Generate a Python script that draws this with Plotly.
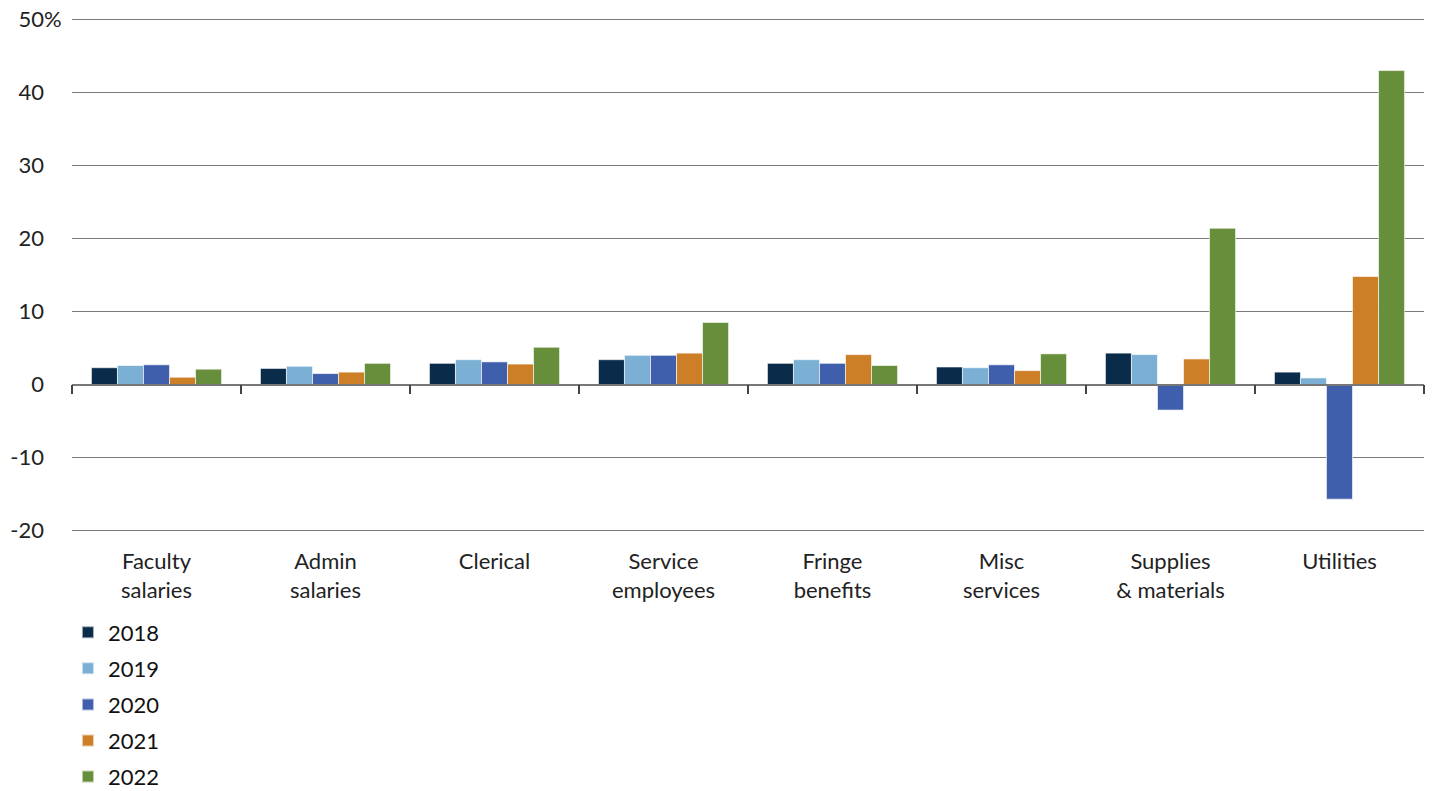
import plotly.graph_objects as go

categories = ["Faculty<br>salaries", "Admin<br>salaries", "Clerical", "Service<br>employees",
              "Fringe<br>benefits", "Misc<br>services", "Supplies<br>& materials", "Utilities"]
years = ["2018", "2019", "2020", "2021", "2022"]
v2018 = [2.3, 2.2, 2.9, 3.4, 2.9, 2.4, 4.3, 1.7]
v2019 = [2.6, 2.5, 3.4, 4.0, 3.4, 2.3, 4.1, 0.9]
v2020 = [2.7, 1.5, 3.1, 4.0, 2.9, 2.7, -3.5, -15.7]
v2021 = [1.0, 1.7, 2.8, 4.3, 4.1, 1.9, 3.5, 14.8]
v2022 = [2.1, 2.9, 5.1, 8.5, 2.6, 4.2, 21.4, 43.0]
colors = ["#0a2b4a", "#7bafd4", "#3f5fac", "#cd7f27", "#668e3b"]
ytick_vals = [-20, -10, 0, 10, 20, 30, 40, 50]
ytick_text = ["-20", "-10", "0", "10", "20", "30", "40", "50%"]

FONT = "Lato"
FS = 22
series = [v2018, v2019, v2020, v2021, v2022]
xpos = list(range(len(categories)))
YMIN, YMAX = -20.2, 50.2

fig = go.Figure()
for yr, vals, col in zip(years, series, colors):
    fig.add_trace(go.Bar(
        x=xpos, y=vals, name=yr,
        marker=dict(color=col, line=dict(color="rgba(255,255,255,0.6)", width=1)),
        legendgroup=yr, hoverinfo="x+y",
    ))

# invisible helper trace so the overlay axis (category boundary ticks on the zero line) is drawn
fig.add_trace(go.Scatter(x=xpos, y=v2018, xaxis="x2", mode="markers",
                         marker=dict(opacity=0), showlegend=False, hoverinfo="skip"))

hidden = "<span style='color:rgba(0,0,0,0)'>%</span>"
ticktext = [t if t.endswith("%") else t + hidden for t in ytick_text]

fig.update_layout(
    width=1434, height=791,
    margin=dict(l=72, r=10, t=18, b=259, autoexpand=False),
    plot_bgcolor="white", paper_bgcolor="white",
    font=dict(family=FONT, size=FS, color="#222"),
    barmode="group", bargap=0.23, bargroupgap=0,
    showlegend=True,
    legend=dict(x=-0.003, xanchor="left", y=-0.1545, yanchor="top",
                orientation="v", font=dict(size=FS, family=FONT, color="#111"),
                tracegroupgap=4.5, itemsizing="constant"),
    xaxis=dict(
        tickmode="array", tickvals=xpos, ticktext=categories,
        range=[-0.5, len(categories) - 0.5],
        showgrid=False, zeroline=False, showline=False,
        ticks="outside", ticklen=10, tickcolor="rgba(0,0,0,0)",
        tickfont=dict(size=FS, family=FONT, color="#222"),
    ),
    xaxis2=dict(
        overlaying="x", anchor="free", position=(0 - YMIN) / (YMAX - YMIN),
        range=[-0.5, len(categories) - 0.5],
        tickmode="array", tickvals=[i - 0.5 for i in range(len(categories) + 1)],
        ticks="outside", ticklen=9, tickwidth=1.5, tickcolor="#444",
        showticklabels=False, showgrid=False, zeroline=False,
        showline=True, linecolor="#777", linewidth=1.5,
    ),
    yaxis=dict(
        range=[YMIN, YMAX], tickmode="array", tickvals=ytick_vals, ticktext=ticktext,
        showgrid=True, gridcolor="#7a7a7a", gridwidth=1.2,
        zeroline=False, showline=False,
        ticks="outside", ticklen=5, tickcolor="rgba(0,0,0,0)",
        tickfont=dict(size=FS, family=FONT, color="#222"),
    ),
)

fig.write_html("out.html", config={"displayModeBar": False},
               post_script="document.body.style.margin='0';")
